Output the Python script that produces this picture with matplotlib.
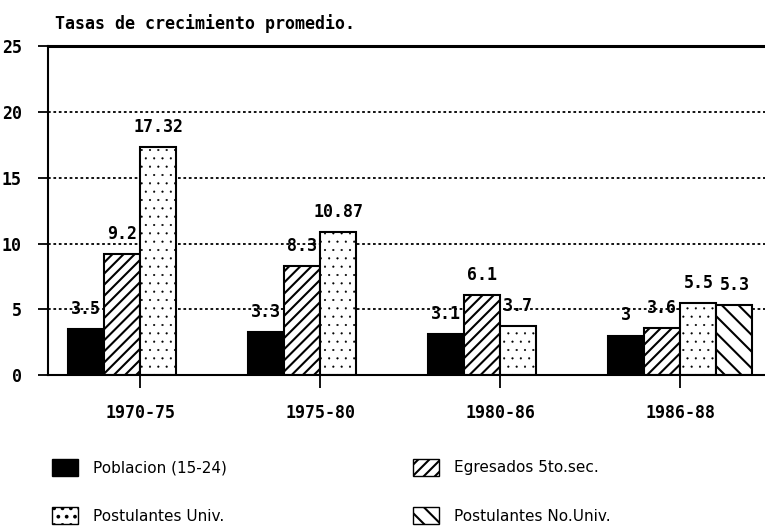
import numpy as np
import matplotlib.pyplot as plt
from matplotlib.patches import Patch

# data
periodos = ["1970-75", "1975-80", "1980-86", "1986-88"]
poblacion = [3.5, 3.3, 3.1, 3]
egresados = [9.2, 8.3, 6.1, 3.6]
postulantes_univ = [17.32, 10.87, 3.7, 5.5]
postulantes_no_univ = [None, None, None, 5.3]
etiquetas_series = ["Poblacion (15-24)", "Postulantes Univ.",
                    "Egresados 5to.sec.", "Postulantes No.Univ."]

plt.rcParams['hatch.linewidth'] = 1.5
mono = 'DejaVu Sans Mono'

fig = plt.figure(figsize=(7.65, 5.26), dpi=100)
ax = fig.add_axes([0.063, 0.287, 0.937, 0.625])

x = np.arange(len(periodos))
w = 0.2

series = [
    (poblacion, -1.5, dict(color='black', edgecolor='black')),
    (egresados, -0.5, dict(color='white', edgecolor='black', hatch='///')),
    (postulantes_univ, 0.5, dict(color='white', edgecolor='black', hatch='..')),
    (postulantes_no_univ, 1.5, dict(color='white', edgecolor='black', hatch='\\\\')),
]

for vals, off, style in series:
    for i, v in enumerate(vals):
        if v is None:
            continue
        b = ax.bar(x[i] + off * w, v, w, align='center', linewidth=1.5, **style)
        if style.get('hatch') == '..':
            b[0].set_hatch_linewidth(0.3)
        ax.annotate(f"{v:g}", (x[i] + off * w, v), xytext=(0, 8),
                    textcoords='offset points', ha='center', va='bottom',
                    fontsize=12, fontweight='bold', family=mono)

ax.set_xlim(-0.511, 3.47)
ax.set_ylim(0, 25)
ax.set_yticks([0, 5, 10, 15, 20, 25])
ax.set_xticks(x)
ax.set_xticklabels(periodos)
for lab in ax.get_xticklabels() + ax.get_yticklabels():
    lab.set_family(mono)
    lab.set_fontweight('bold')
    lab.set_fontsize(12)
ax.tick_params(axis='y', direction='out', length=7, width=1.3, pad=12)
ax.tick_params(axis='x', direction='out', length=9, width=1.3, pad=12)

for yv in [5, 10, 15, 20]:
    ax.axhline(yv, color='black', linestyle=(0, (1.5, 1.5)), linewidth=1.3, zorder=0)

ax.spines['right'].set_visible(False)
ax.spines['top'].set_linewidth(2.2)
ax.spines['left'].set_linewidth(1.5)
ax.spines['bottom'].set_linewidth(1.5)

fig.text(0.072, 0.955, "Tasas de crecimiento promedio.", fontsize=12,
         fontweight='bold', family=mono, ha='left', va='center')

handles = [
    Patch(facecolor='black', edgecolor='black', label=etiquetas_series[0]),
    Patch(facecolor='white', edgecolor='black', hatch='..', hatch_linewidth=0.3,
          label=etiquetas_series[1]),
    Patch(facecolor='white', edgecolor='black', hatch='///', label=etiquetas_series[2]),
    Patch(facecolor='white', edgecolor='black', hatch='\\\\', label=etiquetas_series[3]),
]
fig.legend(handles=handles, ncol=2, loc='lower left', bbox_to_anchor=(0.05, -0.023),
           frameon=False, fontsize=11, handlelength=1.7, handleheight=1.4,
           columnspacing=12.15, labelspacing=2.0, handletextpad=1.0)

fig.savefig("out.png", dpi=100)
